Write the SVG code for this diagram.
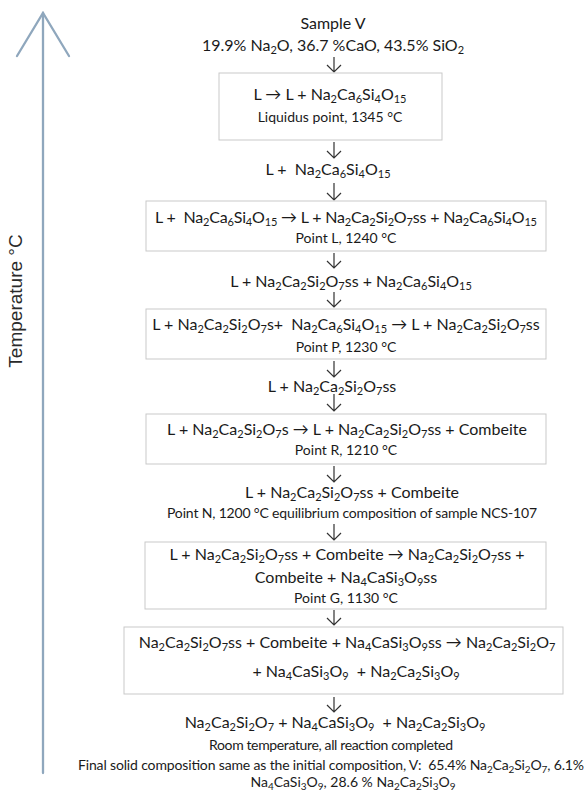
<svg xmlns="http://www.w3.org/2000/svg" width="587" height="791" viewBox="0 0 587 791">
<style>
text{font-family:Lato,"Liberation Sans",sans-serif;font-size:16px;fill:#1a1a1a;text-anchor:middle;white-space:pre}
.s{font-size:14px}
.b{font-size:11px;baseline-shift:-3px}
.s .b{font-size:10px}
.box{fill:#fff;stroke:#c9c9c9;stroke-width:1}
.arr{stroke:#333;stroke-width:1.2;fill:none}
.axis{stroke:#8fa7bd;stroke-width:2.3;fill:none;stroke-linecap:round}
.lab{font-family:"Liberation Sans",Arial,sans-serif;font-size:19px;fill:#2a2a2a}
</style>
<rect width="587" height="791" fill="#fff"/>
<g id="axis">
<path class="axis" d="M43,773 V13"/>
<path class="axis" d="M17,56 L43,13 L69,56" stroke-width="1.8"/>
<text class="lab" x="22" y="301" transform="rotate(-90 22 301)">Temperature °C</text>
</g>
<g id="connectors">
<path class="arr" d="M334,57 V72 M327,65 L334,72 L341,65"/>
<path class="arr" d="M334,142 V158 M327,151 L334,158 L341,151"/>
<path class="arr" d="M334,183 V200 M327,193 L334,200 L341,193"/>
<path class="arr" d="M334,253 V268 M327,261 L334,268 L341,261"/>
<path class="arr" d="M334,292 V307 M327,300 L334,307 L341,300"/>
<path class="arr" d="M334,361 V377 M327,370 L334,377 L341,370"/>
<path class="arr" d="M334,394 V411 M327,404 L334,411 L341,404"/>
<path class="arr" d="M334,466 V482 M327,475 L334,482 L341,475"/>
<path class="arr" d="M334,524 V540 M327,533 L334,540 L341,533"/>
<path class="arr" d="M334,610 V625 M327,618 L334,625 L341,618"/>
<path class="arr" d="M334,697 V712 M327,705 L334,712 L341,705"/>
</g>
<g id="start">
<text x="333" y="29">Sample V</text>
<text x="333" y="51">19.9% Na<tspan class="b">2</tspan>O, 36.7 %CaO, 43.5% SiO<tspan class="b">2</tspan></text>
</g>
<g id="liquidus">
<rect class="box" x="219" y="73" width="223" height="67"/>
<text x="330" y="100">L → L + Na<tspan class="b">2</tspan>Ca<tspan class="b">6</tspan>Si<tspan class="b">4</tspan>O<tspan class="b">15</tspan></text>
<text class="s" x="330" y="122">Liquidus point, 1345 °C</text>
</g>
<g id="state1">
<text x="328" y="175">L +  Na<tspan class="b">2</tspan>Ca<tspan class="b">6</tspan>Si<tspan class="b">4</tspan>O<tspan class="b">15</tspan></text>
</g>
<g id="pointL">
<rect class="box" x="146" y="201" width="400" height="50"/>
<text x="346" y="223" textLength="382">L +  Na<tspan class="b">2</tspan>Ca<tspan class="b">6</tspan>Si<tspan class="b">4</tspan>O<tspan class="b">15</tspan> → L + Na<tspan class="b">2</tspan>Ca<tspan class="b">2</tspan>Si<tspan class="b">2</tspan>O<tspan class="b">7</tspan>ss + Na<tspan class="b">2</tspan>Ca<tspan class="b">6</tspan>Si<tspan class="b">4</tspan>O<tspan class="b">15</tspan></text>
<text class="s" x="346" y="243">Point L, 1240 °C</text>
</g>
<g id="state2">
<text x="351" y="287">L + Na<tspan class="b">2</tspan>Ca<tspan class="b">2</tspan>Si<tspan class="b">2</tspan>O<tspan class="b">7</tspan>ss + Na<tspan class="b">2</tspan>Ca<tspan class="b">6</tspan>Si<tspan class="b">4</tspan>O<tspan class="b">15</tspan></text>
</g>
<g id="pointP">
<rect class="box" x="146" y="309" width="400" height="50"/>
<text x="346" y="330">L + Na<tspan class="b">2</tspan>Ca<tspan class="b">2</tspan>Si<tspan class="b">2</tspan>O<tspan class="b">7</tspan>s+  Na<tspan class="b">2</tspan>Ca<tspan class="b">6</tspan>Si<tspan class="b">4</tspan>O<tspan class="b">15</tspan> → L + Na<tspan class="b">2</tspan>Ca<tspan class="b">2</tspan>Si<tspan class="b">2</tspan>O<tspan class="b">7</tspan>ss</text>
<text class="s" x="346" y="352">Point P, 1230 °C</text>
</g>
<g id="state3">
<text x="332" y="392">L + Na<tspan class="b">2</tspan>Ca<tspan class="b">2</tspan>Si<tspan class="b">2</tspan>O<tspan class="b">7</tspan>ss</text>
</g>
<g id="pointR">
<rect class="box" x="146" y="414" width="400" height="50"/>
<text x="347" y="435">L + Na<tspan class="b">2</tspan>Ca<tspan class="b">2</tspan>Si<tspan class="b">2</tspan>O<tspan class="b">7</tspan>s → L + Na<tspan class="b">2</tspan>Ca<tspan class="b">2</tspan>Si<tspan class="b">2</tspan>O<tspan class="b">7</tspan>ss + Combeite</text>
<text class="s" x="346" y="455">Point R, 1210 °C</text>
</g>
<g id="pointN">
<text x="352" y="498">L + Na<tspan class="b">2</tspan>Ca<tspan class="b">2</tspan>Si<tspan class="b">2</tspan>O<tspan class="b">7</tspan>ss + Combeite</text>
<text class="s" x="352" y="518" textLength="370">Point N, 1200 °C equilibrium composition of sample NCS-107</text>
</g>
<g id="pointG">
<rect class="box" x="145" y="542" width="401" height="67"/>
<text x="347" y="560">L + Na<tspan class="b">2</tspan>Ca<tspan class="b">2</tspan>Si<tspan class="b">2</tspan>O<tspan class="b">7</tspan>ss + Combeite → Na<tspan class="b">2</tspan>Ca<tspan class="b">2</tspan>Si<tspan class="b">2</tspan>O<tspan class="b">7</tspan>ss +</text>
<text x="346" y="583">Combeite + Na<tspan class="b">4</tspan>CaSi<tspan class="b">3</tspan>O<tspan class="b">9</tspan>ss</text>
<text class="s" x="346" y="603">Point G, 1130 °C</text>
</g>
<g id="solidReaction">
<rect class="box" x="124" y="627" width="439" height="67"/>
<text x="347" y="648">Na<tspan class="b">2</tspan>Ca<tspan class="b">2</tspan>Si<tspan class="b">2</tspan>O<tspan class="b">7</tspan>ss + Combeite + Na<tspan class="b">4</tspan>CaSi<tspan class="b">3</tspan>O<tspan class="b">9</tspan>ss → Na<tspan class="b">2</tspan>Ca<tspan class="b">2</tspan>Si<tspan class="b">2</tspan>O<tspan class="b">7</tspan></text>
<text x="356" y="677">+ Na<tspan class="b">4</tspan>CaSi<tspan class="b">3</tspan>O<tspan class="b">9</tspan>  + Na<tspan class="b">2</tspan>Ca<tspan class="b">2</tspan>Si<tspan class="b">3</tspan>O<tspan class="b">9</tspan></text>
</g>
<g id="final">
<text x="335" y="728">Na<tspan class="b">2</tspan>Ca<tspan class="b">2</tspan>Si<tspan class="b">2</tspan>O<tspan class="b">7</tspan> + Na<tspan class="b">4</tspan>CaSi<tspan class="b">3</tspan>O<tspan class="b">9</tspan>  + Na<tspan class="b">2</tspan>Ca<tspan class="b">2</tspan>Si<tspan class="b">3</tspan>O<tspan class="b">9</tspan></text>
<text class="s" x="331" y="750" textLength="244">Room temperature, all reaction completed</text>
<text class="s" x="331" y="770" textLength="506">Final solid composition same as the initial composition, V:  65.4% Na<tspan class="b">2</tspan>Ca<tspan class="b">2</tspan>Si<tspan class="b">2</tspan>O<tspan class="b">7</tspan>, 6.1%</text>
<text class="s" x="353" y="787">Na<tspan class="b">4</tspan>CaSi<tspan class="b">3</tspan>O<tspan class="b">9</tspan>, 28.6 % Na<tspan class="b">2</tspan>Ca<tspan class="b">2</tspan>Si<tspan class="b">3</tspan>O<tspan class="b">9</tspan></text>
</g>
</svg>
